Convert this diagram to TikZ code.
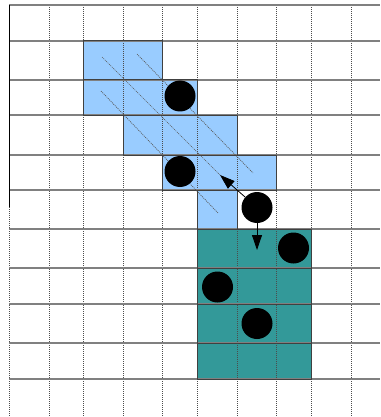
\documentclass[tikz,border=0pt]{standalone}
\usetikzlibrary{arrows.meta}
\definecolor{cellblue}{RGB}{153,204,255}
\definecolor{cellteal}{RGB}{51,153,153}
\begin{document}
\begin{tikzpicture}[x=1pt,y=-1pt,
  vline/.style={draw=black!70, line width=0.9pt, dash pattern=on 1pt off 1pt},
  hline/.style={draw=black!50, line width=1.4pt},
  regionedge/.style={draw=black!75, line width=1pt},
  trail/.style={draw=black!65, line width=0.7pt, dash pattern=on 1pt off 1pt},
  ball/.style={circle, fill=black, minimum size=31pt, inner sep=0pt},
  arr/.style={draw=black, line width=0.8pt, -{Triangle[length=15pt,width=10pt]}}
]
\useasboundingbox (0,0) rectangle (380,417);
\fill[white] (0,0) rectangle (380,417);
% region fills
\fill[cellblue] (83.3,41) -- (162.7,41) -- (162.7,80) -- (197.3,80) -- (197.3,115) -- (237,115) -- (237,155) -- (276.7,155) -- (276.7,190) -- (237,190) -- (237,229) -- (197.3,229) -- (197.3,190) -- (162.7,190) -- (162.7,155) -- (123.3,155) -- (123.3,115) -- (83.3,115) -- cycle;
\fill[cellteal] (197.3,229) rectangle (311.3,379);
% grid
\foreach \x in {9.3,49,83.3,123.3,162.7,197.3,237,276.7,311.3,351.3}
  \draw[vline] (\x,5) -- (\x,417);
\foreach \y in {5,41,80,115,155,190,229,268,304,343,379}
  \draw[hline] (9.3,\y) -- (380,\y);
\draw[draw=black, line width=1pt] (9.3,5) -- (9.3,207);
% region outlines and inner rows
\draw[regionedge] (83.3,41) -- (162.7,41) -- (162.7,80) -- (197.3,80) -- (197.3,115) -- (237,115) -- (237,155) -- (276.7,155) -- (276.7,190) -- (237,190) -- (237,229) -- (197.3,229) -- (197.3,190) -- (162.7,190) -- (162.7,155) -- (123.3,155) -- (123.3,115) -- (83.3,115) -- cycle;
\draw[regionedge] (83.3,80) -- (162.7,80);
\draw[regionedge] (123.3,115) -- (197.3,115);
\draw[regionedge] (162.7,155) -- (237,155);
\draw[regionedge] (197.3,190) -- (237,190);
\draw[regionedge] (197.3,229) rectangle (311.3,379);
\foreach \y in {268,304,343}
  \draw[regionedge] (197.3,\y) -- (311.3,\y);
% trails
\coordinate (t1s) at (137,54);
\coordinate (t1e) at (253,173);
\coordinate (t2s) at (102,57);
\coordinate (tipA) at (220,175);
\coordinate (t3s) at (101,91);
\coordinate (t3e) at (218,213);
\draw[trail] (t1s) -- (t1e);
\draw[trail] (t2s) -- (tipA);
\draw[trail] (t3s) -- (t3e);
% balls
\node[ball] (b1) at (180,96) {};
\node[ball] (b2) at (180,171.5) {};
\node[ball] (b3) at (257,207.5) {};
\node[ball] (b4) at (293.5,248) {};
\node[ball] (b5) at (217.5,287) {};
\node[ball] (b6) at (257,323.5) {};
% arrows
\coordinate (tipB) at (257,250);
\draw[arr] (b3) -- (tipA);
\draw[arr] (b3) -- (tipB);
\end{tikzpicture}
\end{document}
